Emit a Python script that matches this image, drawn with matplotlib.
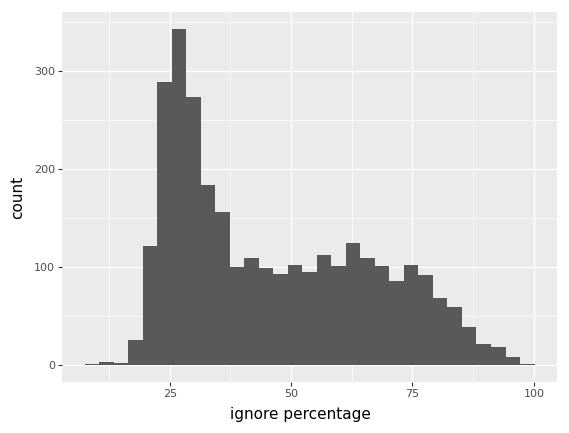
import numpy as np
import matplotlib
matplotlib.use("Agg")
import matplotlib.pyplot as plt
from matplotlib.ticker import MultipleLocator

# histogram counts (31 bins)
counts = [1, 3, 2, 26, 122, 289, 343, 273, 184, 156, 100, 109, 99, 93, 102,
          95, 112, 101, 125, 109, 101, 86, 102, 92, 69, 59, 39, 22, 19, 8, 1]
bin_start = 7.45
bin_width = 2.99
x_ticks = [25, 50, 75, 100]
y_ticks = [0, 100, 200, 300]

edges = bin_start + bin_width * np.arange(len(counts) + 1)
centers = edges[:-1] + bin_width / 2

fig = plt.figure(figsize=(5.69, 4.33), dpi=100)
ax = fig.add_axes([0.109, 0.1178, 0.870, 0.8545])
ax.set_facecolor("#EBEBEB")

ax.hist(centers, bins=edges, weights=counts, color="#595959", zorder=3)

# ggplot-like expansion of 5%
xmin, xmax = edges[0], edges[-1]
xr = xmax - xmin
ax.set_xlim(xmin - 0.05 * xr, xmax + 0.05 * xr)
ymax = max(counts)
ax.set_ylim(-0.05 * ymax, ymax * 1.05)

ax.set_xticks(x_ticks)
ax.set_yticks(y_ticks)
ax.xaxis.set_minor_locator(MultipleLocator(12.5))
ax.yaxis.set_minor_locator(MultipleLocator(50))
ax.grid(which="major", color="white", linewidth=1.0, zorder=0)
ax.grid(which="minor", color="white", linewidth=0.5, zorder=0)
ax.set_axisbelow(True)

for s in ax.spines.values():
    s.set_visible(False)
ax.tick_params(which="major", length=3, width=0.8, color="#333333",
               labelcolor="#4D4D4D", labelsize=8, pad=2)
ax.tick_params(which="minor", length=0)

ax.set_xlabel("ignore percentage", fontsize=11)
ax.set_ylabel("count", fontsize=11, labelpad=6.5)
# the reference centres the x title a little left of the panel centre
ax.xaxis.set_label_coords(0.481, -0.068)

fig.savefig("out.png", dpi=100)
